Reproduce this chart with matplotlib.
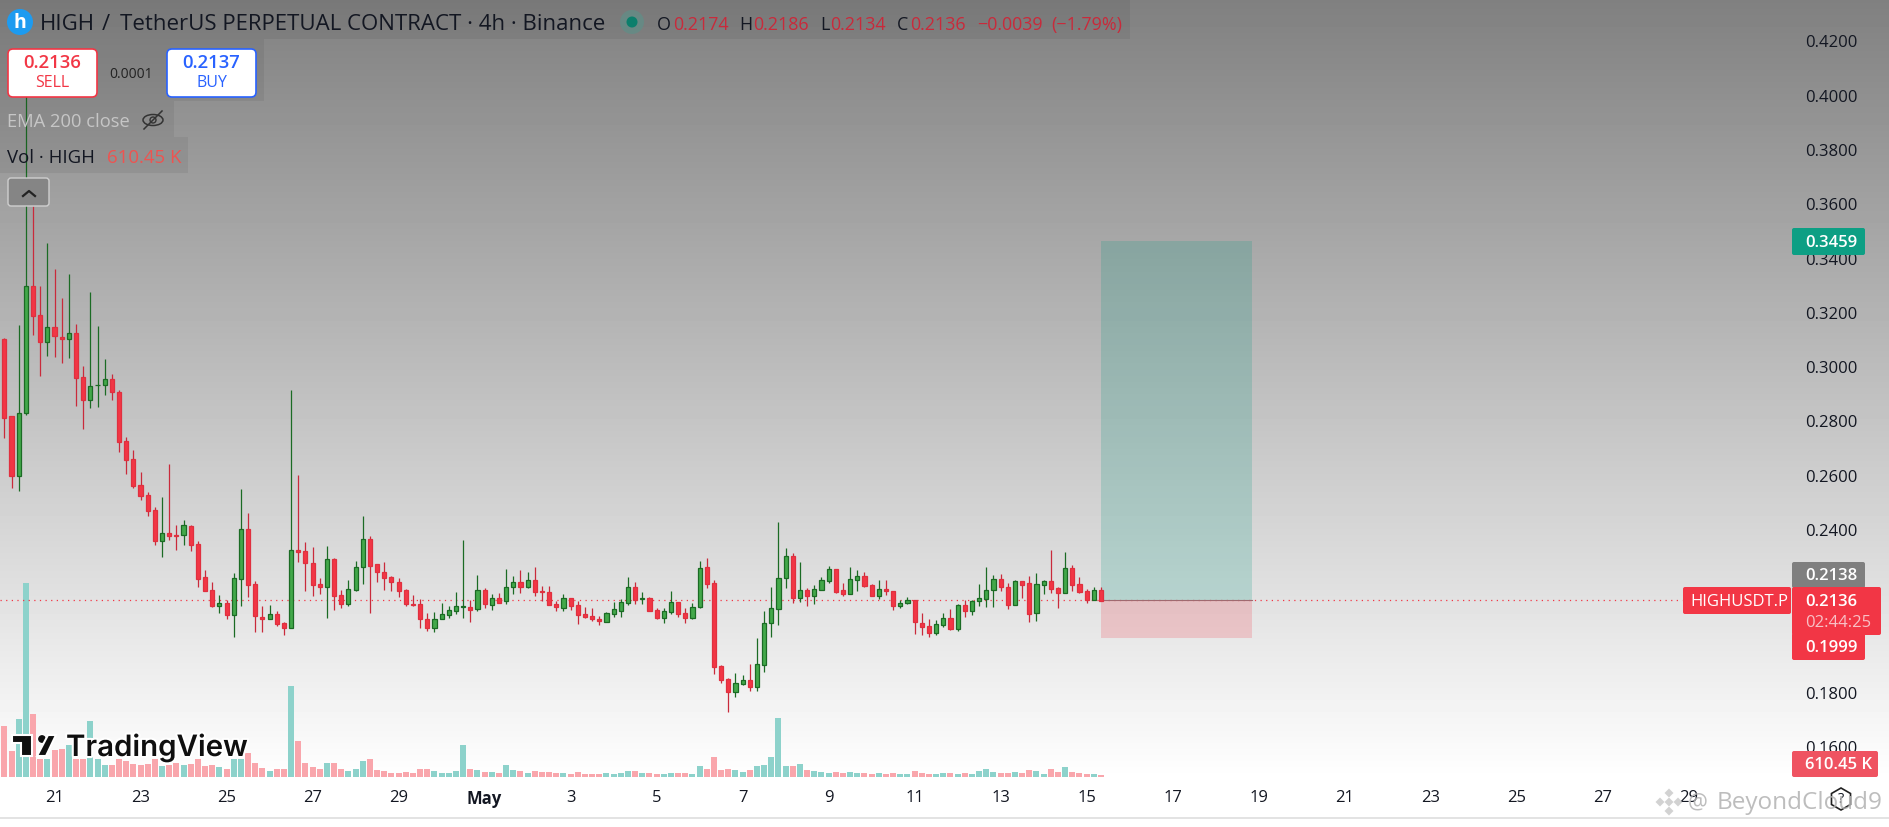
#!/usr/bin/env python3
"""HIGH/USDT perpetual 4h TradingView screenshot, redrawn with matplotlib."""

import matplotlib
matplotlib.use('Agg')
import matplotlib.pyplot as plt
import matplotlib.patheffects as pe
from matplotlib.patches import FancyBboxPatch, Rectangle, Circle, Polygon, RegularPolygon, Ellipse
import numpy as np

W, H = 1889, 828

opens = [.3099, .2816, .2595, .2829, .3294, .3188, .3089, .3145, .3109, .3100,
         .3122, .2959, .2874, .2929, .2929, .2952, .2904, .2723, .2657, .2562,
         .2524, .2472, .2357, .2384, .2378, .2377, .2411, .2345, .2222, .2174,
         .2118, .2126, .2084, .2217, .2402, .2196, .2078, .2070, .2089, .2054,
         .2037, .2323, .2319, .2275, .2196, .2188, .2290, .2156, .2125, .2177,
         .2261, .2362, .2270, .2243, .2223, .2206, .2174, .2124, .2123, .2069,
         .2037, .2067, .2085, .2100, .2114, .2113, .2107, .2176, .2122, .2146,
         .2134, .2187, .2204, .2188, .2211, .2172, .2167, .2123, .2111, .2145,
         .2119, .2086, .2079, .2068, .2056, .2089, .2100, .2129, .2186, .2141,
         .2145, .2101, .2074, .2096, .2130, .2090, .2073, .2112, .2259, .2200,
         .1895, .1847, .1801, .1831, .1843, .1820, .1901, .2053, .2107, .2218,
         .2301, .2148, .2175, .2155, .2177, .2210, .2252, .2175, .2162, .2214,
         .2226, .2193, .2155, .2178, .2171, .2118, .2126, .2138, .2054, .2043,
         .2016, .2048, .2071, .2031, .2119, .2100, .2134, .2144, .2175, .2215,
         .2186, .2122, .2208, .2200, .2090, .2195, .2208, .2182, .2166, .2256,
         .2197, .2171, .2138, .2174]
highs = [.3103, .2816, .3152, .3995, .3590, .3294, .3454, .3357, .3251, .3339,
         .3157, .3000, .3272, .3148, .3025, .2970, .2911, .2738, .2690, .2609,
         .2535, .2483, .2517, .2639, .2415, .2433, .2415, .2355, .2248, .2204,
         .2159, .2139, .2240, .2546, .2458, .2210, .2115, .2120, .2100, .2059,
         .2912, .2599, .2353, .2335, .2220, .2337, .2293, .2174, .2212, .2283,
         .2447, .2373, .2271, .2280, .2226, .2218, .2180, .2156, .2143, .2091,
         .2096, .2128, .2116, .2167, .2360, .2138, .2231, .2183, .2160, .2164,
         .2252, .2226, .2248, .2241, .2259, .2189, .2189, .2135, .2161, .2146,
         .2135, .2113, .2110, .2079, .2094, .2132, .2141, .2222, .2204, .2167,
         .2149, .2108, .2110, .2171, .2130, .2110, .2128, .2281, .2294, .2211,
         .1900, .1850, .1870, .1863, .1903, .2000, .2097, .2186, .2425, .2331,
         .2312, .2277, .2182, .2194, .2222, .2264, .2252, .2202, .2259, .2249,
         .2241, .2197, .2213, .2213, .2171, .2138, .2149, .2138, .2091, .2069,
         .2065, .2091, .2105, .2123, .2138, .2138, .2198, .2259, .2230, .2234,
         .2200, .2211, .2209, .2226, .2237, .2211, .2324, .2186, .2317, .2267,
         .2222, .2178, .2186, .2186]
lows = [.2736, .2553, .2541, .2820, .3114, .2965, .3039, .3035, .3010, .3030,
        .2855, .2769, .2847, .2851, .2892, .2874, .2685, .2604, .2553, .2508,
        .2449, .2342, .2296, .2361, .2324, .2342, .2318, .2186, .2172, .2113,
        .2092, .2070, .2001, .2118, .2151, .2022, .2022, .2070, .2044, .2011,
        .2037, .2280, .2172, .2153, .2161, .2072, .2103, .2110, .2118, .2172,
        .2197, .2092, .2205, .2175, .2172, .2150, .2118, .2118, .2037, .2026,
        .2022, .2067, .2073, .2087, .2074, .2059, .2100, .2110, .2102, .2129,
        .2124, .2161, .2165, .2184, .2154, .2135, .2120, .2100, .2098, .2102,
        .2051, .2073, .2063, .2048, .2056, .2076, .2076, .2122, .2124, .2124,
        .2097, .2069, .2054, .2087, .2076, .2054, .2067, .2111, .2183, .1866,
        .1833, .1725, .1783, .1827, .1805, .1805, .1875, .2004, .2048, .2183,
        .2128, .2133, .2118, .2124, .2177, .2202, .2164, .2155, .2162, .2172,
        .2186, .2154, .2143, .2157, .2102, .2110, .2124, .2014, .2011, .2004,
        .2011, .2041, .2030, .2026, .2076, .2084, .2118, .2114, .2113, .2172,
        .2106, .2120, .2146, .2058, .2063, .2161, .2165, .2110, .2165, .2172,
        .2166, .2128, .2137, .2134]
closes = [.2809, .2595, .2829, .3294, .3186, .3088, .3143, .3110, .3100, .3122,
          .2958, .2874, .2926, .2931, .2952, .2903, .2722, .2656, .2560, .2523,
          .2468, .2357, .2384, .2375, .2375, .2414, .2342, .2217, .2173, .2116,
          .2126, .2084, .2218, .2402, .2195, .2081, .2070, .2089, .2051, .2037,
          .2323, .2314, .2275, .2195, .2188, .2290, .2154, .2125, .2178, .2261,
          .2362, .2265, .2243, .2221, .2206, .2173, .2125, .2120, .2067, .2037,
          .2069, .2087, .2102, .2117, .2117, .2103, .2176, .2124, .2146, .2129,
          .2186, .2204, .2188, .2211, .2170, .2170, .2122, .2114, .2145, .2118,
          .2085, .2076, .2067, .2060, .2090, .2105, .2130, .2186, .2139, .2145,
          .2100, .2073, .2097, .2130, .2089, .2074, .2112, .2256, .2199, .1893,
          .1846, .1801, .1832, .1843, .1820, .1902, .2053, .2108, .2219, .2301,
          .2146, .2175, .2155, .2178, .2211, .2252, .2168, .2162, .2215, .2226,
          .2191, .2155, .2178, .2171, .2118, .2127, .2137, .2056, .2041, .2016,
          .2049, .2073, .2031, .2119, .2100, .2135, .2145, .2175, .2215, .2186,
          .2122, .2208, .2195, .2089, .2197, .2208, .2180, .2166, .2256, .2195,
          .2170, .2139, .2175, .2136]
# volume in thousands
volumes = [15200, 7700, 17500, 58300, 19000, 5300, 5300, 8000, 8500, 9500,
           5500, 5500, 16900, 5300, 3500, 3500, 5500, 4700, 3800, 3500,
           3800, 5300, 3300, 3500, 4300, 3500, 3800, 5300, 3300, 3500,
           3000, 2300, 5300, 5500, 7300, 4100, 2600, 1800, 2400, 2400,
           27200, 10700, 4100, 3000, 2400, 4100, 4100, 2300, 1800, 2300,
           4700, 5300, 2000, 1700, 1200, 1200, 1500, 1200, 2300, 2300,
           1800, 1200, 1200, 1800, 9500, 2300, 2000, 1500, 1500, 1200,
           3500, 2100, 1800, 1200, 1800, 1500, 1500, 1200, 1200, 900,
           1500, 900, 900, 900, 1200, 900, 1200, 1800, 1800, 1200,
           1200, 900, 900, 1200, 1200, 1200, 900, 3300, 2300, 5900,
           2100, 2300, 2100, 1500, 2100, 3300, 3600, 5900, 17800, 3300,
           3300, 3800, 2100, 1800, 1400, 1200, 1400, 1200, 1400, 1200,
           1200, 900, 1200, 900, 1200, 900, 900, 1800, 1200, 900,
           900, 1200, 1200, 900, 1200, 900, 1800, 2400, 1500, 1200,
           1200, 1500, 1200, 2100, 1800, 900, 2300, 1500, 3000, 1500,
           1200, 900, 900, 610.45]

price_ticks = [0.16, 0.18, 0.24, 0.26, 0.28, 0.30, 0.32, 0.34, 0.36, 0.38, 0.40, 0.42]
date_bars = [7, 19, 31, 43, 55, 67, 79, 91, 103, 115, 127, 139, 151, 163, 175, 187, 199, 211, 223, 235]
date_labels = ['21', '23', '25', '27', '29', 'May', '3', '5', '7', '9', '11', '13', '15',
               '17', '19', '21', '23', '25', '27', '29']

last_price = 0.2137
target_price = 0.3459
entry_price = 0.2138
stop_price = 0.1999
box_start, box_end = 153, 174.1

GREEN = '#43a84a'
GREEN_DARK = '#1b6b24'
RED = '#f23645'
RED_DARK = '#c92a3b'
TEAL = '#089981'
FONT = 'Open Sans'
plt.rcParams['font.family'] = [FONT, 'DejaVu Sans']

fig = plt.figure(figsize=(W / 100, H / 100), dpi=100, facecolor='white')

# grey to white backdrop behind the whole screenshot
bg = fig.add_axes([0, 0, 1, 1], zorder=0)
rows = np.clip(128 + 127 * np.arange(H) / 780, 0, 255).reshape(-1, 1)
bg.imshow(rows, cmap='gray', vmin=0, vmax=255, aspect='auto', extent=[0, W, H, 0])
bg.axhline(819, color='#dedede', lw=1.2)
bg.add_patch(Rectangle((0, 819.5), W, 9, color='white'))
bg.set_xlim(0, W)
bg.set_ylim(H, 0)
bg.axis('off')

# price pane, 7.167 px per bar, 0.02 per 54.3 px
PANE_R, PANE_B = 1790, 778
ax = fig.add_axes([0, 1 - PANE_B / H, PANE_R / W, PANE_B / H], zorder=1)
ax.patch.set_visible(False)
ax.set_xlim(-0.614, 249.14)
ax.set_ylim(0.1487, 0.4352)
for s in ax.spines.values():
    s.set_visible(False)

x = np.arange(len(opens))
o, h, l, c = map(np.array, (opens, highs, lows, closes))
up = c >= o

# volume shares the pane on its own scale
vax = ax.twinx()
vax.patch.set_visible(False)
vax.set_ylim(0, 233400)
vax.set_zorder(1)
ax.set_zorder(2)
ax.patch.set_visible(False)
vax.bar(x, volumes, 0.84, color=['#8dd2cb' if u else '#f9a6ac' for u in up], linewidth=0)
vax.axis('off')

ax.axhline(last_price, xmax=(1682 / PANE_R), color=RED, lw=0.9, ls=(0, (1, 3.5)), zorder=1)

ax.add_patch(Rectangle((box_start, entry_price), box_end - box_start, target_price - entry_price,
                       facecolor=TEAL, alpha=0.2, linewidth=0, zorder=1.5))
ax.add_patch(Rectangle((box_start, stop_price), box_end - box_start, entry_price - stop_price,
                       facecolor=RED, alpha=0.2, linewidth=0, zorder=1.5))
ax.plot([box_start, box_end], [entry_price, entry_price], color='#a06a70', lw=0.8, zorder=1.6)

ax.vlines(x[up], l[up], h[up], color=GREEN_DARK, lw=0.9, zorder=3)
ax.vlines(x[~up], l[~up], h[~up], color=RED_DARK, lw=0.9, zorder=3)
ax.bar(x[up], (c - o)[up], 0.58, bottom=o[up], color=GREEN, edgecolor=GREEN_DARK, linewidth=0.9, zorder=4)
ax.bar(x[~up], (c - o)[~up], 0.58, bottom=o[~up], color=RED, edgecolor='#e0303f', linewidth=0.9, zorder=4)

ax.yaxis.tick_right()
ax.set_yticks(price_ticks)
ax.set_yticklabels([f'{t:.4f}' for t in price_ticks], fontsize=12, color='#131722')
ax.tick_params(axis='y', length=0, pad=10.6)
ax.set_xticks(date_bars)
ax.set_xticklabels(date_labels, fontsize=12, color='#131722')
ax.tick_params(axis='x', length=0, pad=8.7)
ax.get_xticklabels()[5].set_fontweight('bold')

# screenshot furniture, laid out in image pixels
ui = fig.add_axes([0, 0, 1, 1], zorder=3)
ui.set_xlim(0, W)
ui.set_ylim(H, 0)
ui.axis('off')
ui.patch.set_visible(False)


def band(x0, y0, x1, y1, color='black', alpha=0.06):
    ui.add_patch(Rectangle((x0, y0), x1 - x0, y1 - y0, facecolor=color, alpha=alpha, linewidth=0))


def label(x0, y0, x1, y1, color, alpha=1.0):
    ui.add_patch(FancyBboxPatch((x0 + 1, y0 + 1), x1 - x0 - 2, y1 - y0 - 2, boxstyle='round,pad=1,rounding_size=2',
                                facecolor=color, edgecolor='none', alpha=alpha))


def txt(x0, y0, s, color='#131722', size=12, ha='left', **kw):
    # va center sits a touch high against the screenshot text
    return ui.text(x0, y0 + 2, s, color=color, fontsize=size, ha=ha, va='center', **kw)


band(0, 0, 1130, 40)
band(0, 40, 264, 102)
band(0, 102, 174, 138)
band(0, 138, 188, 174)

# symbol icon
ui.add_patch(Circle((20, 23), 13, facecolor='#1d9bf0', edgecolor='none'))
txt(20, 21, 'h', color='white', size=14, ha='center', fontweight='bold')
txt(40, 23, 'HIGH', size=16)
txt(102, 23, '/', size=16)
txt(120, 23, 'TetherUS PERPETUAL CONTRACT · 4h · Binance', size=16)

ui.add_patch(Circle((632, 23), 12, facecolor='#5f8f88', edgecolor='none', alpha=0.7))
ui.add_patch(Circle((632, 23), 5.5, facecolor='#0b7f6c', edgecolor='none'))
for xp, s, col in [(657, 'O', '#131722'), (673, '0.2174', RED_DARK), (739, 'H', '#131722'),
                   (753, '0.2186', RED_DARK), (820, 'L', '#131722'), (830, '0.2134', RED_DARK),
                   (897, 'C', '#131722'), (910, '0.2136', RED_DARK), (977, '−0.0039', RED_DARK),
                   (1051, '(−1.79%)', RED_DARK)]:
    txt(xp, 23, s, color=col, size=12.9)

# sell / buy buttons
for bx, col, price, side in [(8, RED, '0.2136', 'SELL'), (167, '#2962ff', '0.2137', 'BUY')]:
    ui.add_patch(FancyBboxPatch((bx + 4, 54), 81, 40, boxstyle='round,pad=4,rounding_size=5',
                                facecolor='white', edgecolor=col, linewidth=1.2))
    txt(bx + 44.5, 61, price, color=col, size=13.3, ha='center', fontweight='semibold')
    txt(bx + 44.5, 81, side, color=col, size=11.5, ha='center')
txt(131, 72, '0.0001', size=10, ha='center', color='#222222')

txt(7, 120, 'EMA 200 close', color='#c6c6c6', size=13.2)
ui.add_patch(Ellipse((153, 121), 20, 11, facecolor='none', edgecolor='#333333', lw=1.1))
ui.plot([144, 162], [130, 112], color='#333333', lw=1.1)
ui.add_patch(Circle((153, 121), 3, facecolor='none', edgecolor='#333333', lw=1))
txt(7, 156, 'Vol · HIGH', size=13.4)
txt(107, 156, '610.45 K', color='#ef5350', size=13.4)

ui.add_patch(FancyBboxPatch((10, 181), 37, 24, boxstyle='round,pad=2,rounding_size=3',
                            facecolor='#858585', edgecolor='#cfcfcf', linewidth=1))
ui.plot([23, 29, 35], [197, 192, 197], color='#222222', lw=1.6)

# right hand scale labels
label(1792, 229, 1865, 256, '#0d9f84')
txt(1805, 241, '0.3459', color='white', size=12, fontweight='semibold')
label(1792, 563, 1865, 589, '#7f7f7f')
txt(1805, 574, '0.2138', color='white', size=12, fontweight='semibold')
label(1683, 588, 1791, 615, RED)
txt(1690, 600, 'HIGHUSDT.P', color='white', size=12)
label(1792, 588, 1881, 636, RED)
txt(1805, 600, '0.2136', color='white', size=12, fontweight='semibold')
txt(1805, 621, '02:44:25', color='#f8c0c5', size=12)
label(1792, 634, 1865, 661, RED)
txt(1805, 646, '0.1999', color='white', size=12, fontweight='semibold')
label(1792, 752, 1878, 778, '#ef5361')
txt(1805, 763, '610.45 K', color='white', size=12, fontweight='semibold')

# TradingView logo
halo = [pe.withStroke(linewidth=3, foreground='white')]
ui.add_patch(Polygon([(12, 736), (32, 736), (32, 757), (21, 757), (21, 744), (12, 744)],
                     facecolor='#0f0f0f', edgecolor='white', lw=1.5))
ui.add_patch(Circle((42, 740), 4.6, facecolor='#0f0f0f', edgecolor='white', lw=1))
ui.add_patch(Polygon([(48, 736), (56, 736), (46, 757), (37, 757)], facecolor='#0f0f0f', edgecolor='white', lw=1.5))
txt(66, 747, 'TradingView', color='#0f0f0f', size=21.2, fontweight='semibold', path_effects=halo,
    family=['Inter', 'DejaVu Sans'])

# help icon and repost watermark
ui.add_patch(RegularPolygon((1841, 800), 6, radius=11, facecolor='none', edgecolor='#222222', lw=1.2))
txt(1841, 798, '?', size=10.5, ha='center')
for dx, dy in [(0, -9), (-9, 0), (9, 0), (0, 9), (0, 0)]:
    ui.add_patch(RegularPolygon((1669 + dx, 803 + dy), 4, radius=4.5, facecolor='#c4c4c4', edgecolor='none', alpha=0.75))
txt(1688, 801, '@', color='#b2b2b2', size=16, alpha=0.85)
txt(1717, 801, 'BeyondCloud9', color='#b2b2b2', size=17.5, alpha=0.85)

fig.savefig('out.png', dpi=100, facecolor='white')
